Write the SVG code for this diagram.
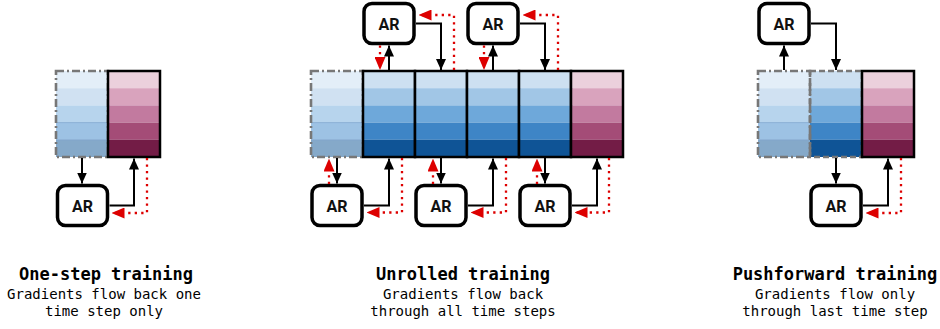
<svg xmlns="http://www.w3.org/2000/svg" width="940" height="329" viewBox="0 0 940 329">
<style>
.ar{fill:#fff;stroke:#000;stroke-width:3.5}
.arT{font-family:Roboto,"Liberation Sans",sans-serif;font-weight:700;font-size:16px;text-anchor:middle;fill:#111}
.dash{fill:none;stroke:#777;stroke-width:2.6;stroke-dasharray:8 3 2 3}
.dash2{fill:none;stroke:#777;stroke-width:2.6;stroke-dasharray:6 3}
.solid{fill:none;stroke:#000;stroke-width:2.5}
.blk{fill:none;stroke:#000;stroke-width:2}
.red{fill:none;stroke:#dd0000;stroke-width:2.3;stroke-dasharray:2.3 4.2}
.ttl{font-family:"DejaVu Sans Mono","Liberation Mono",monospace;font-weight:700;font-size:17px;text-anchor:middle;fill:#000}
.sub{font-family:"DejaVu Sans Mono","Liberation Mono",monospace;font-size:14px;text-anchor:middle;fill:#000}
.l1{fill:#e3eef8}.l2{fill:#d0e1f2}.l3{fill:#b7d4ed}.l4{fill:#9dc2e4}.l5{fill:#85a9c9}
.b1{fill:#cde0f1}.b2{fill:#a1c6e6}.b3{fill:#6ea8da}.b4{fill:#3e85c6}.b5{fill:#0f5496}
.m1{fill:#ebd0dc}.m2{fill:#d9a3bd}.m3{fill:#c27a9f}.m4{fill:#a44c77}.m5{fill:#731c46}
</style>
<defs>
<marker id="ab" markerUnits="userSpaceOnUse" markerWidth="11" markerHeight="11" refX="11" refY="5.5" orient="auto"><path d="M0,0.5 L11,5.5 L0,10.5 z" fill="#000"/></marker>
<marker id="ar" markerUnits="userSpaceOnUse" markerWidth="13" markerHeight="11" refX="13" refY="5.5" orient="auto"><path d="M0,0 L13,5.5 L0,11 z" fill="#dd0000"/></marker>
<g id="colL"><rect class="l1" x="0" y="0" width="52" height="17.2"/><rect class="l2" x="0" y="17.2" width="52" height="17.2"/><rect class="l3" x="0" y="34.4" width="52" height="17.2"/><rect class="l4" x="0" y="51.6" width="52" height="17.2"/><rect class="l5" x="0" y="68.8" width="52" height="17.2"/><path d="M0,51.6H52M0,68.8H52" stroke="#7fa6cf" stroke-width="0.8"/></g>
<g id="colB"><rect class="b1" x="0" y="0" width="52" height="17.2"/><rect class="b2" x="0" y="17.2" width="52" height="17.2"/><rect class="b3" x="0" y="34.4" width="52" height="17.2"/><rect class="b4" x="0" y="51.6" width="52" height="17.2"/><rect class="b5" x="0" y="68.8" width="52" height="17.2"/></g>
<g id="colM"><rect class="m1" x="0" y="0" width="52" height="17.2"/><rect class="m2" x="0" y="17.2" width="52" height="17.2"/><rect class="m3" x="0" y="34.4" width="52" height="17.2"/><rect class="m4" x="0" y="51.6" width="52" height="17.2"/><rect class="m5" x="0" y="68.8" width="52" height="17.2"/></g>
</defs>
<rect width="940" height="329" fill="#fff"/>

<!-- One-step -->
<g id="onestep-state0"><use href="#colL" x="56" y="71"/><rect class="dash" x="56" y="71" width="52" height="86"/></g>
<g id="onestep-target"><use href="#colM" x="108" y="71"/><rect class="solid" x="108" y="71" width="52" height="86"/></g>
<g id="onestep-ar"><rect class="ar" x="57.5" y="185.5" width="50" height="40" rx="8"/><text class="arT" x="82.5" y="211.5">AR</text></g>

<!-- Unrolled -->
<g id="unrolled-state0"><use href="#colL" x="311" y="71"/><rect class="dash" x="311" y="71" width="52" height="86"/></g>
<g id="unrolled-state1"><use href="#colB" x="363" y="71"/><rect class="solid" x="363" y="71" width="52" height="86"/></g>
<g id="unrolled-state2"><use href="#colB" x="415" y="71"/><rect class="solid" x="415" y="71" width="52" height="86"/></g>
<g id="unrolled-state3"><use href="#colB" x="467" y="71"/><rect class="solid" x="467" y="71" width="52" height="86"/></g>
<g id="unrolled-state4"><use href="#colB" x="519" y="71"/><rect class="solid" x="519" y="71" width="52" height="86"/></g>
<g id="unrolled-target"><use href="#colM" x="571" y="71"/><rect class="solid" x="571" y="71" width="52" height="86"/></g>
<g id="unrolled-ar-b1"><rect class="ar" x="312" y="185.5" width="50" height="40" rx="8"/><text class="arT" x="337" y="211.5">AR</text></g>
<g id="unrolled-ar-t1"><rect class="ar" x="364" y="3.5" width="50" height="40" rx="8"/><text class="arT" x="389" y="29.5">AR</text></g>
<g id="unrolled-ar-b2"><rect class="ar" x="416" y="185.5" width="50" height="40" rx="8"/><text class="arT" x="441" y="211.5">AR</text></g>
<g id="unrolled-ar-t2"><rect class="ar" x="468" y="3.5" width="50" height="40" rx="8"/><text class="arT" x="493" y="29.5">AR</text></g>
<g id="unrolled-ar-b3"><rect class="ar" x="520" y="185.5" width="50" height="40" rx="8"/><text class="arT" x="545" y="211.5">AR</text></g>

<!-- Pushforward -->
<g id="push-state0"><use href="#colL" x="758" y="71"/></g>
<g id="push-state1"><use href="#colB" x="810" y="71"/></g>
<g id="push-borders"><rect class="dash" x="758" y="71" width="52" height="86"/><rect class="dash2" x="810" y="71" width="52" height="86"/></g>
<g id="push-target"><use href="#colM" x="862" y="71"/><rect class="solid" x="862" y="71" width="52" height="86"/></g>
<g id="push-ar-t"><rect class="ar" x="759" y="3.5" width="50" height="40" rx="8"/><text class="arT" x="784" y="29.5">AR</text></g>
<g id="push-ar-b"><rect class="ar" x="811" y="185.5" width="50" height="40" rx="8"/><text class="arT" x="836" y="211.5">AR</text></g>

<g id="connectors">
<!-- one-step -->
<path class="blk" d="M82,158V183.5" marker-end="url(#ab)"/>
<path class="blk" d="M109.5,205.5H134V158.5" marker-end="url(#ab)"/>
<path class="red" d="M147,158V213H111.5" marker-end="url(#ar)"/>
<!-- unrolled bottom -->
<path class="blk" d="M337,158V183.5" marker-end="url(#ab)"/>
<path class="red" d="M329,184V158.5" marker-end="url(#ar)"/>
<path class="blk" d="M364,205.5H389V158.5" marker-end="url(#ab)"/>
<path class="red" d="M402,158V212.5H366.5" marker-end="url(#ar)"/>
<path class="blk" d="M441,158V183.5" marker-end="url(#ab)"/>
<path class="red" d="M433,184V158.5" marker-end="url(#ar)"/>
<path class="blk" d="M468,205.5H493V158.5" marker-end="url(#ab)"/>
<path class="red" d="M506,158V212.5H470.5" marker-end="url(#ar)"/>
<path class="blk" d="M545,158V183.5" marker-end="url(#ab)"/>
<path class="red" d="M537,184V158.5" marker-end="url(#ar)"/>
<path class="blk" d="M572,205.5H597V158.5" marker-end="url(#ab)"/>
<path class="red" d="M609,158V212.5H574.5" marker-end="url(#ar)"/>
<!-- unrolled top -->
<path class="blk" d="M389,70V45.5" marker-end="url(#ab)"/>
<path class="red" d="M380,45.5V70" marker-end="url(#ar)"/>
<path class="blk" d="M416,23.5H441V70" marker-end="url(#ab)"/>
<path class="red" d="M454,70V15H418.5" marker-end="url(#ar)"/>
<path class="blk" d="M493,70V45.5" marker-end="url(#ab)"/>
<path class="red" d="M484,45.5V70" marker-end="url(#ar)"/>
<path class="blk" d="M520,23.5H545V70" marker-end="url(#ab)"/>
<path class="red" d="M558,70V15H522.5" marker-end="url(#ar)"/>
<!-- pushforward -->
<path class="blk" d="M784,70V45.5" marker-end="url(#ab)"/>
<path class="blk" d="M811,23.5H836V70" marker-end="url(#ab)"/>
<path class="blk" d="M836,158V183.5" marker-end="url(#ab)"/>
<path class="blk" d="M863,205.5H888V158.5" marker-end="url(#ab)"/>
<path class="red" d="M901,158V213H865.5" marker-end="url(#ar)"/>
</g>

<g id="labels">
<text class="ttl" x="106" y="280">One-step training</text>
<text class="sub" x="104" y="299">Gradients flow back one</text>
<text class="sub" x="104" y="316">time step only</text>
<text class="ttl" x="463" y="280">Unrolled training</text>
<text class="sub" x="463" y="299">Gradients flow back</text>
<text class="sub" x="463" y="316">through all time steps</text>
<text class="ttl" x="835" y="280">Pushforward training</text>
<text class="sub" x="835" y="299">Gradients flow only</text>
<text class="sub" x="835" y="316">through last time step</text>
</g>
</svg>
